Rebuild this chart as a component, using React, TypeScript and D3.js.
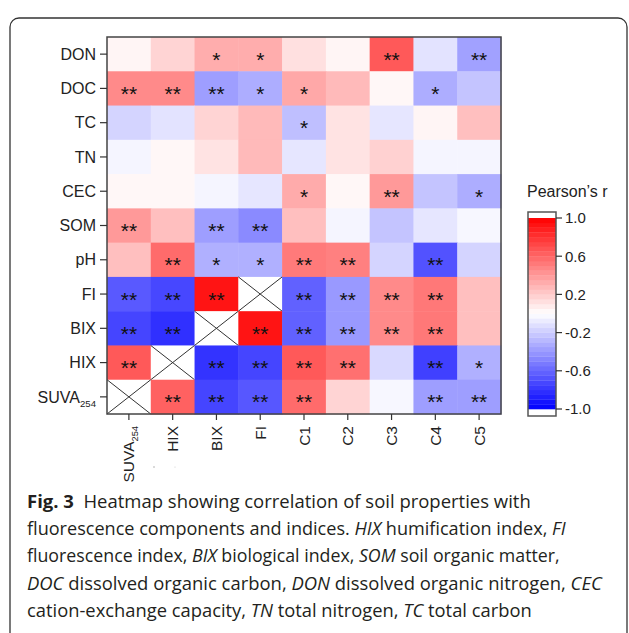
import React from "react";
import * as d3 from "d3";

const rowLabels = ["DON", "DOC", "TC", "TN", "CEC", "SOM", "pH", "FI", "BIX", "HIX", "SUVA254"];
const colLabels = ["SUVA254", "HIX", "BIX", "FI", "C1", "C2", "C3", "C4", "C5"];

// Pearson's r, rows top->bottom, columns left->right (null = self-correlation)
const rDON = [0.04, 0.17, 0.32, 0.32, 0.12, 0.04, 0.65, -0.11, -0.37];
const rDOC = [0.46, 0.46, -0.38, -0.32, 0.34, 0.27, 0.03, -0.32, -0.23];
const rTC = [-0.17, -0.11, 0.17, 0.27, -0.25, 0.11, -0.1, 0.04, 0.25];
const rTN = [-0.04, 0.03, 0.11, 0.27, -0.1, 0.11, 0.18, -0.04, -0.04];
const rCEC = [0.03, 0.03, -0.04, -0.1, 0.33, 0.03, 0.4, -0.23, -0.32];
const rSOM = [0.4, 0.25, -0.38, -0.46, 0.25, -0.04, -0.23, -0.1, -0.03];
const rPH = [0.25, 0.58, -0.31, -0.31, 0.52, 0.5, -0.17, -0.68, -0.17];
const rFI = [-0.65, -0.72, 0.92, null, -0.62, -0.4, 0.46, 0.53, 0.25];
const rBIX = [-0.73, -0.81, null, 0.92, -0.62, -0.4, 0.46, 0.53, 0.25];
const rHIX = [0.65, null, -0.8, -0.73, 0.65, 0.56, -0.15, -0.75, -0.31];
const rSUVA = [null, 0.62, -0.73, -0.66, 0.58, 0.17, -0.03, -0.38, -0.38];
const corr = [rDON, rDOC, rTC, rTN, rCEC, rSOM, rPH, rFI, rBIX, rHIX, rSUVA];

const sDON = ["", "", "*", "*", "", "", "**", "", "**"];
const sDOC = ["**", "**", "**", "*", "*", "", "", "*", ""];
const sTC = ["", "", "", "", "*", "", "", "", ""];
const sTN = ["", "", "", "", "", "", "", "", ""];
const sCEC = ["", "", "", "", "*", "", "**", "", "*"];
const sSOM = ["**", "", "**", "**", "", "", "", "", ""];
const sPH = ["", "**", "*", "*", "**", "**", "", "**", ""];
const sFI = ["**", "**", "**", "", "**", "**", "**", "**", ""];
const sBIX = ["**", "**", "", "**", "**", "**", "**", "**", ""];
const sHIX = ["**", "", "**", "**", "**", "**", "", "**", "*"];
const sSUVA = ["", "**", "**", "**", "**", "", "", "**", "**"];
const stars = [sDON, sDOC, sTC, sTN, sCEC, sSOM, sPH, sFI, sBIX, sHIX, sSUVA];

const legendTicks = [1.0, 0.6, 0.2, -0.2, -0.6, -1.0];
const legendTitle = "Pearson\u2019s r";

const captionLines: [string, string][][] = [
  [["Fig. 3", "b"], ["  Heatmap showing correlation of soil properties with", "n"]],
  [["fluorescence components and indices. ", "n"], ["HIX", "i"], [" humification index, ", "n"], ["FI", "i"]],
  [["fluorescence index, ", "n"], ["BIX", "i"], [" biological index, ", "n"], ["SOM", "i"], [" soil organic matter,", "n"]],
  [["DOC", "i"], [" dissolved organic carbon, ", "n"], ["DON", "i"], [" dissolved organic nitrogen, ", "n"], ["CEC", "i"]],
  [["cation-exchange capacity, ", "n"], ["TN", "i"], [" total nitrogen, ", "n"], ["TC", "i"], [" total carbon", "n"]],
];
const captionWidths = [504, 539, 533, 575, 505];

const FONT = "'Liberation Sans', Arial, sans-serif";
const CAP_FONT = "'Open Sans', 'Noto Sans', sans-serif";
const CAP_REF = 18;

let ctx: CanvasRenderingContext2D | null = null;
function measure(t: string, style: string) {
  if (!ctx && typeof document !== "undefined") ctx = document.createElement("canvas").getContext("2d");
  const weight = style === "b" ? "700" : "400";
  const fs = style === "i" ? "italic" : "normal";
  if (!ctx) return t.length * CAP_REF * 0.5;
  ctx.font = `${fs} ${weight} ${CAP_REF}px ${CAP_FONT}`;
  return ctx.measureText(t).width;
}

function Label({ name, x, y, anchor, size }: any) {
  if (name === "SUVA254") {
    return (
      <text x={x} y={y} textAnchor={anchor} fontSize={size} fontFamily={FONT} fill="#222">
        SUVA
        <tspan fontSize={size * 0.6} dy={4}>254</tspan>
      </text>
    );
  }
  return (
    <text x={x} y={y} textAnchor={anchor} fontSize={size} fontFamily={FONT} fill="#222">
      {name}
    </text>
  );
}

function CaptionLine({ segs, y, width }: any) {
  const total = d3.sum(segs, ([t, s]: [string, string]) => measure(t, s));
  const fs = Math.min(19, (CAP_REF * width) / total);
  return (
    <text x={27} y={y} fontSize={fs} fontFamily={CAP_FONT} fill="#231f20" style={{ whiteSpace: "pre" }}>
      {segs.map(([t, s]: [string, string], j: number) => (
        <tspan key={j} fontWeight={s === "b" ? 700 : 400} fontStyle={s === "i" ? "italic" : "normal"}>{t}</tspan>
      ))}
    </text>
  );
}

export default function App() {
  const W = 629, H = 633;
  const x = d3.scaleBand<string>().domain(colLabels).range([107, 501]).padding(0);
  const y = d3.scaleBand<string>().domain(rowLabels).range([37, 414]).padding(0);
  const color = d3.scaleLinear<string>().domain([-1, 0, 1]).range(["#0000ff", "#ffffff", "#ff0000"]).clamp(true);
  const yLeg = d3.scaleLinear().domain([-1, 1]).range([409, 218]);
  const bands = d3.range(40).map((i) => -1 + i * 0.05);
  const bw = x.bandwidth(), bh = y.bandwidth();

  return (
    <svg width={W} height={H} style={{ position: "absolute", left: 0, top: 0, background: "#fff" }}>
      <rect x={0} y={0} width={W} height={H} fill="#fff" />
      {/* outer frame */}
      <rect x={10} y={18} width={617} height={700} rx={9} ry={9} fill="none" stroke="#333" strokeWidth={1.3} />

      {/* cells */}
      {corr.map((row, ri) =>
        row.map((v, ci) => {
          const cx = x(colLabels[ci])!, cy = y(rowLabels[ri])!;
          if (v === null) {
            return (
              <g key={`c${ri}-${ci}`}>
                <rect x={cx} y={cy} width={bw} height={bh} fill="#fff" />
                <line x1={cx} y1={cy} x2={cx + bw} y2={cy + bh} stroke="#333" strokeWidth={1} />
                <line x1={cx + bw} y1={cy} x2={cx} y2={cy + bh} stroke="#333" strokeWidth={1} />
              </g>
            );
          }
          return <rect key={`c${ri}-${ci}`} x={cx} y={cy} width={bw + 0.5} height={bh + 0.5} fill={color(v)} />;
        })
      )}
      {/* significance stars */}
      {stars.map((row, ri) =>
        row.map((s, ci) =>
          s ? (
            <text key={`s${ri}-${ci}`} x={x(colLabels[ci])! + bw / 2} y={y(rowLabels[ri])! + bh / 2 + 12.5} textAnchor="middle" fontSize={21} fontFamily={FONT} fill="#111">
              {s}
            </text>
          ) : null
        )
      )}
      <rect x={107} y={37} width={394} height={377} fill="none" stroke="#444" strokeWidth={1.5} />

      {/* y axis */}
      {rowLabels.map((r) => {
        const cy = y(r)! + bh / 2;
        return (
          <g key={r}>
            <line x1={100} x2={107} y1={cy} y2={cy} stroke="#333" strokeWidth={1.2} />
            <Label name={r} x={96} y={cy + 5.7} anchor="end" size={16} />
          </g>
        );
      })}
      {/* x axis */}
      {colLabels.map((c) => {
        const cx = x(c)! + bw / 2;
        return (
          <g key={c}>
            <line x1={cx} x2={cx} y1={414} y2={420} stroke="#333" strokeWidth={1.2} />
            <g transform={`translate(${cx + 5.5},${426}) rotate(-90)`}>
              <Label name={c} x={0} y={0} anchor="end" size={15.5} />
            </g>
          </g>
        );
      })}
      <circle cx={154} cy={467} r={0.8} fill="#aaa" />
      <circle cx={175} cy={467} r={0.6} fill="#ccc" />

      {/* legend */}
      <text x={527} y={197} fontSize={16} fontFamily={FONT} fill="#222">{legendTitle}</text>
      <rect x={528} y={212} width={28} height={204} fill="#fff" />
      {bands.map((b) => (
        <rect key={b} x={528} y={yLeg(b + 0.05)} width={28} height={yLeg(b) - yLeg(b + 0.05) + 0.3} fill={color(b + 0.025)} />
      ))}
      <rect x={528} y={212} width={28} height={204} fill="none" stroke="#555" strokeWidth={1.5} />
      {legendTicks.map((t) => (
        <g key={t}>
          <line x1={556} x2={562} y1={yLeg(t)} y2={yLeg(t)} stroke="#333" strokeWidth={1.2} />
          <text x={565} y={yLeg(t) + 5.3} fontSize={15} fontFamily={FONT} fill="#222">
            {t.toFixed(1)}
          </text>
        </g>
      ))}

      {/* caption */}
      {captionLines.map((segs, i) => (
        <CaptionLine key={i} segs={segs} y={508 + i * 27.2} width={captionWidths[i]} />
      ))}
    </svg>
  );
}
